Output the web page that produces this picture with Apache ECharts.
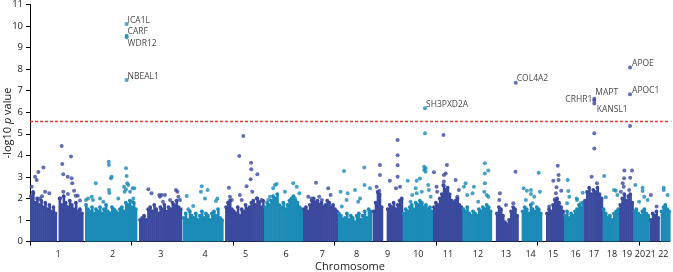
<!DOCTYPE html>
<html>
<head>
<meta charset="utf-8">
<script src="https://cdn.jsdelivr.net/npm/echarts@6/dist/echarts.min.js"></script>
<style>
  html, body { margin: 0; padding: 0; background: #fff; }
  #manhattan { width: 673px; height: 272px; }
</style>
</head>
<body>
<div id="manhattan"></div>
<script>
// chromosomes on a cumulative genome axis (Mb)
const chromNames = ['1','2','3','4','5','6','7','8','9','10','11','12','13','14','15','16','17','18','19','20','21','22'];
const chromStart = [0, 271, 537, 752, 961, 1153, 1345, 1517, 1688, 1836, 1985, 2130, 2295, 2422, 2542, 2631, 2729, 2821, 2903, 2972, 3054, 3107];
const chromEnd = [261, 526, 747, 951, 1153, 1343, 1517, 1683, 1836, 1985, 2130, 2274, 2405, 2521, 2631, 2729, 2821, 2903, 2972, 3051, 3100, 3153];
const chromLabelPos = [138, 407, 645, 862, 1062, 1261, 1440, 1609, 1762, 1913, 2059, 2207, 2345, 2466, 2576, 2688, 2778, 2867, 2941, 3005, 3058, 3120];
const genomeTicks = [0, 500, 1000, 1500, 2000, 2500, 3000];

// top of the dense cloud of SNPs, read along each chromosome (-log10 p)
const bulkHeights = [
  [2.1, 2.3, 1.8, 2.0, 1.7, 1.9, 1.6, 1.8, 1.5, 1.7, 1.4, 1.6, 1.3, 0, 2.0, 1.7, 2.1, 1.8, 1.6, 1.9, 1.7, 1.5, 1.8, 1.4, 1.5, 1.3],
  [1.7, 1.5, 1.4, 1.6, 1.3, 1.5, 1.4, 1.6, 1.3, 1.5, 1.7, 1.4, 1.3, 1.6, 1.5, 1.4, 1.3, 1.5, 1.6, 1.4, 1.8, 1.7, 1.9, 1.6, 1.8, 1.5],
  [1.0, 1.1, 1.2, 1.0, 1.5, 1.6, 1.4, 1.7, 1.5, 1.3, 1.6, 1.5, 1.7, 1.4, 1.6, 1.5, 1.8, 1.7, 1.9, 1.6, 1.5],
  [1.1, 1.3, 1.0, 1.4, 1.2, 1.1, 1.3, 1.0, 1.2, 1.4, 1.1, 1.3, 1.2, 1.0, 1.3, 1.4, 1.2, 1.5, 1.1, 1.0],
  [1.6, 1.8, 1.9, 1.5, 1.4, 1.3, 1.6, 1.2, 1.5, 1.4, 1.7, 1.5, 1.6, 1.8, 1.9, 1.7, 2.0, 1.8, 1.6, 1.9],
  [1.6, 1.8, 1.7, 1.9, 2.1, 2.0, 2.2, 1.7, 1.6, 1.8, 1.5, 1.7, 1.9, 2.0, 2.1, 1.9, 1.8, 1.6, 1.5],
  [1.5, 1.6, 1.4, 1.7, 1.9, 2.0, 1.8, 1.9, 1.7, 1.8, 1.6, 1.7, 1.9, 1.8, 1.6, 1.7, 1.5, 1.4],
  [1.3, 1.2, 1.0, 1.1, 1.3, 1.0, 1.2, 1.1, 0.9, 1.2, 1.3, 1.0, 1.2, 1.4, 1.1, 1.5, 1.4],
  [1.4, 1.8, 2.3, 2.2, 1.6, 0, 0, 1.5, 1.7, 1.6, 1.8, 1.5, 1.7, 1.9, 2.0],
  [1.3, 1.5, 1.4, 1.6, 1.7, 1.5, 1.8, 1.7, 1.9, 1.8, 1.6, 1.7, 1.5, 1.6, 1.4],
  [1.6, 1.8, 1.7, 2.0, 2.2, 2.6, 2.4, 2.5, 2.2, 1.9, 1.8, 1.9, 2.0, 1.7, 1.6],
  [1.5, 1.4, 1.6, 1.3, 1.2, 1.4, 1.3, 1.2, 1.5, 1.4, 1.6, 1.5, 1.7, 1.6, 1.4],
  [1.3, 1.6, 1.5, 1.2, 0.9, 0.8, 1.0, 1.4, 1.6, 1.5, 1.2],
  [1.4, 1.6, 1.5, 1.3, 1.7, 1.5, 1.4, 1.6, 1.5, 1.3],
  [1.3, 1.5, 1.4, 1.7, 1.9, 2.0, 1.8, 1.6, 1.4],
  [1.2, 1.4, 1.1, 1.3, 1.2, 1.4, 1.5, 1.7, 1.6, 1.8],
  [1.9, 2.3, 2.5, 2.2, 2.4, 2.3, 2.5, 2.2, 2.0],
  [1.5, 1.3, 1.1, 1.2, 1.0, 1.3, 1.4, 1.5],
  [1.7, 2.0, 2.2, 1.9, 2.1, 2.2, 1.8],
  [1.4, 1.5, 1.3, 1.2, 1.4, 1.5, 1.3, 1.2],
  [1.0, 1.3, 1.2, 1.4, 1.1],
  [1.4, 1.6, 1.7, 1.5, 1.4]
];

// individual SNPs standing above the cloud: [position Mb, -log10 p]
const snpsByChrom = [
  [[41,3.22],[66,3.44],[25,3.0],[33,2.85],[8,2.54],[74,2.31],[95,2.24],[16,2.24],[49,2.0],[59,2.1],[156,4.43],[202,3.94],[159,3.6],[164,3.12],[186,3.0],[205,2.93],[208,2.7],[164,2.31],[217,2.36],[225,2.12],[235,2.12],[148,2.0],[187,2.2],[246,1.9]],
  [[324,2.7],[388,3.7],[389,3.55],[402,3.0],[399,2.93],[389,2.39],[391,2.25],[473,3.4],[476,3.04],[479,2.7],[484,2.62],[463,2.54],[506,2.47],[514,2.47],[473,2.42],[493,2.31],[466,2.31],[276,1.93],[286,2.0],[304,2.08],[310,1.93],[345,2.0],[361,1.85],[435,2.0],[509,2.0],[504,1.85]],
  [[583,2.42],[599,2.24],[637,2.16],[649,2.16],[665,2.16],[690,1.93],[719,2.39],[726,2.31],[731,2.08],[739,1.93],[640,2.08],[655,1.85]],
  [[772,2.11],[846,2.57],[842,2.31],[875,2.39],[862,2.0],[923,2.0],[916,1.88],[804,1.65],[780,1.5]],
  [[1051,4.9],[1031,3.97],[1089,3.66],[1090,3.35],[1087,2.89],[1120,3.12],[1067,2.57],[1095,2.31],[980,2.5],[985,2.08],[994,1.93],[1034,2.16],[1043,1.93],[1117,2.0],[1141,1.93],[1133,1.85]],
  [[1207,2.62],[1215,2.67],[1198,2.47],[1297,2.7],[1314,2.54],[1327,2.24],[1305,2.0],[1256,2.31],[1182,2.08],[1174,1.93]],
  [[1409,2.73],[1469,2.47],[1481,2.16],[1425,2.08],[1371,2.08],[1388,2.0],[1438,1.93]],
  [[1547,3.27],[1647,3.44],[1601,2.39],[1648,2.62],[1530,2.31],[1565,2.24],[1675,2.47],[1626,2.0],[1617,1.85],[1560,1.93],[1536,1.62]],
  [[1724,3.55],[1724,3.09],[1773,2.82],[1811,4.71],[1811,4.0],[1811,3.54],[1811,3.0],[1803,2.47],[1823,2.54],[1708,2.54],[1721,2.36]],
  [[1861,2.82],[1905,2.82],[1921,2.92],[1946,5.02],[1942,3.47],[1942,3.32],[1949,3.4],[1949,3.24],[1962,2.62],[1930,2.31],[1905,2.24],[1900,2.47],[1883,2.16],[1965,2.39],[1974,2.08],[1875,1.85]],
  [[2037,4.94],[2054,3.55],[1990,3.21],[2048,3.16],[2039,3.09],[2097,2.85],[2039,2.78],[2036,2.62],[2113,2.39],[2105,2.08],[2006,2.31],[2003,2.54],[2023,1.93]],
  [[2241,3.63],[2258,3.29],[2241,3.16],[2146,2.7],[2138,2.54],[2187,2.54],[2241,2.7],[2238,2.31],[2250,2.16],[2180,2.24],[2258,2.08],[2208,1.85],[2154,2.16]],
  [[2392,3.24],[2315,2.24],[2312,1.93],[2381,1.77],[2345,1.69]],
  [[2506,3.19],[2432,2.47],[2448,2.36],[2468,2.39],[2468,2.2],[2484,2.08],[2512,2.31],[2443,1.93],[2476,1.77]],
  [[2600,3.52],[2604,3.09],[2578,2.82],[2604,2.85],[2591,2.24],[2586,1.96],[2617,2.36],[2594,2.52],[2558,1.62]],
  [[2649,2.85],[2652,2.34],[2657,2.08],[2646,1.77],[2695,1.93],[2723,2.26],[2714,1.77],[2693,2.0]],
  [[2780,5.02],[2780,4.32],[2767,3.0],[2793,2.7]],
  [[2829,3.04],[2837,2.05],[2886,2.36],[2894,2.16],[2877,2.39]],
  [[2928,3.29],[2966,3.29],[2927,2.93],[2957,2.96],[2920,2.7],[2925,2.54],[2911,2.31],[2952,2.39],[2956,5.36]],
  [[2982,2.62],[3018,2.5],[3018,2.34],[3026,2.08],[3001,1.85],[3043,1.93]],
  [[3059,2.16],[3087,1.62]],
  [[3122,2.5],[3122,2.39],[3141,2.16]]
];

// genome-wide hits with gene names
const hitGenes = ['ICA1L', 'CARF', 'WDR12', 'NBEAL1', 'SH3PXD2A', 'COL4A2', 'MAPT', 'CRHR1', 'KANSL1', 'APOE', 'APOC1'];
const hitChrom = [2, 2, 2, 2, 10, 13, 17, 17, 17, 19, 19];
const hitPos = [476, 476, 476, 476, 1946, 2393, 2780, 2780, 2780, 2956, 2956];
const hitLogP = [10.09, 9.55, 9.48, 7.49, 6.18, 7.37, 6.62, 6.55, 6.40, 8.08, 6.83];

// genome-wide significance line
const threshold = 5.57;
const thresholdSpan = [0, 3153];

const darkBlue = '#3b4a9e';
const teal = '#1c8bb7';
const colorOf = function (chromIdx) { return chromIdx % 2 === 0 ? darkBlue : teal; };

// gene name placement, relative to the symbol box (4px symbol)
const labelPlace = {
  ICA1L:    { pos: [3, -1.5], align: 'left' },
  CARF:     { pos: [3, -2], align: 'left' },
  WDR12:    { pos: [3, 8], align: 'left' },
  NBEAL1:   { pos: [3, -2], align: 'left' },
  SH3PXD2A: { pos: [3, -2], align: 'left' },
  COL4A2:   { pos: [3, -2.5], align: 'left' },
  MAPT:     { pos: [3, -4.5], align: 'left' },
  CRHR1:    { pos: [0, 1], align: 'right' },
  KANSL1:   { pos: [4.5, 8], align: 'left' },
  APOE:     { pos: [4, -1.5], align: 'left' },
  APOC1:    { pos: [4, -1.5], align: 'left' }
};

const bulkData = [];
bulkHeights.forEach(function (heights, c) {
  const step = (chromEnd[c] - chromStart[c]) / heights.length;
  heights.forEach(function (h, i) {
    if (h > 0) {
      bulkData.push([chromStart[c] + i * step, chromStart[c] + (i + 1) * step, h, c]);
    }
  });
});

const oddSnps = [];
const evenSnps = [];
snpsByChrom.forEach(function (pts, c) {
  pts.forEach(function (p) {
    (c % 2 === 0 ? oddSnps : evenSnps).push(p);
  });
});

const hitData = hitGenes.map(function (g, i) {
  const lp = labelPlace[g];
  return {
    value: [hitPos[i], hitLogP[i]],
    name: g,
    itemStyle: { color: colorOf(hitChrom[i] - 1) },
    label: {
      show: true,
      formatter: g,
      position: lp.pos,
      align: lp.align,
      verticalAlign: 'middle'
    }
  };
});

const chart = echarts.init(document.getElementById('manhattan'), null, { renderer: 'canvas' });

const option = {
  animation: false,
  textStyle: { fontFamily: 'Open Sans' },
  grid: { left: 30, right: 3, top: 4.5, bottom: 30.5, containLabel: false, outerBoundsMode: 'none' },
  xAxis: {
    type: 'value',
    min: 0,
    max: 3153,
    interval: 500,
    name: 'Chromosome',
    nameLocation: 'middle',
    nameGap: 20,
    nameMoveOverlap: false,
    nameTextStyle: { fontSize: 11, color: '#1a1a1a', fontFamily: 'Open Sans' },
    axisLine: { lineStyle: { color: '#000', width: 1 } },
    axisTick: { show: true, length: 4, customValues: genomeTicks, lineStyle: { color: '#000' } },
    axisLabel: {
      customValues: chromLabelPos,
      fontSize: 9,
      color: '#1a1a1a',
      margin: 8,
      formatter: function (v) {
        const i = chromLabelPos.indexOf(v);
        return i >= 0 ? chromNames[i] : '';
      }
    },
    splitLine: { show: false }
  },
  yAxis: {
    type: 'value',
    min: 0,
    max: 11,
    interval: 1,
    name: '-log10 {i|p} value',
    nameLocation: 'middle',
    nameGap: 17,
    nameMoveOverlap: false,
    nameTextStyle: {
      fontSize: 11,
      color: '#1a1a1a',
      fontFamily: 'Open Sans',
      rich: { i: { fontStyle: 'italic', fontSize: 11, fontFamily: 'Open Sans', color: '#1a1a1a' } }
    },
    axisLine: { show: true, lineStyle: { color: '#000', width: 1 } },
    axisTick: { show: true, length: 4, lineStyle: { color: '#000' } },
    axisLabel: { fontSize: 9.5, color: '#1a1a1a', margin: 7 },
    splitLine: { show: false }
  },
  series: [
    {
      name: 'bulk',
      type: 'custom',
      data: bulkData,
      encode: { x: [0, 1], y: 2 },
      renderItem: function (params, api) {
        const top = api.coord([api.value(0), api.value(2)]);
        const base = api.coord([api.value(1), 0]);
        const fill = colorOf(api.value(3));
        const w = base[0] - top[0];
        return {
          type: 'group',
          children: [
            {
              type: 'rect',
              shape: { x: top[0], y: top[1], width: w + 0.6, height: base[1] - top[1] },
              style: { fill: fill }
            },
            {
              type: 'circle',
              shape: { cx: top[0] + w / 2, cy: top[1], r: 1.9 },
              style: { fill: fill }
            }
          ]
        };
      }
    },
    {
      name: 'threshold',
      type: 'line',
      data: thresholdSpan.map(function (x) { return [x, threshold]; }),
      symbol: 'none',
      silent: true,
      z: 4,
      lineStyle: { color: '#e8392e', width: 1.3, type: [3, 2] }
    },
    {
      name: 'odd',
      type: 'scatter',
      data: oddSnps,
      symbolSize: 4,
      itemStyle: { color: darkBlue }
    },
    {
      name: 'even',
      type: 'scatter',
      data: evenSnps,
      symbolSize: 4,
      itemStyle: { color: teal }
    },
    {
      name: 'hits',
      type: 'scatter',
      data: hitData,
      symbolSize: 4,
      z: 5,
      label: { fontSize: 8.5, color: '#111', fontFamily: 'Open Sans' }
    }
  ]
};

chart.setOption(option);
window.addEventListener('resize', chart.resize);
</script>
</body>
</html>
